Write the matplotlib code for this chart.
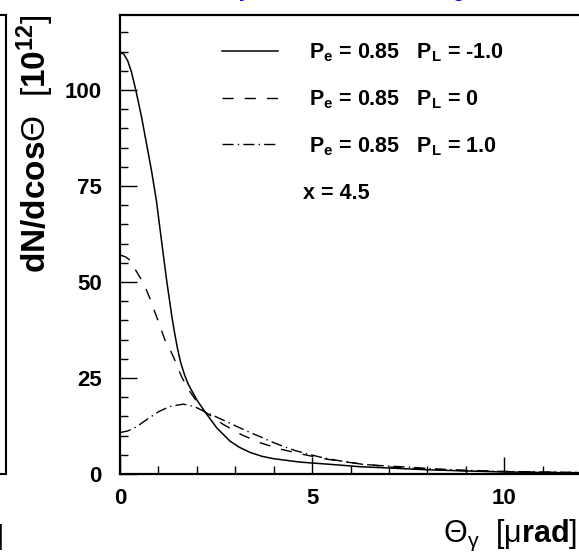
import matplotlib
matplotlib.use("Agg")
import matplotlib.pyplot as plt
from matplotlib.ticker import MultipleLocator

plt.rcParams['font.family'] = ['Liberation Sans', 'DejaVu Sans']
plt.rcParams['mathtext.fontset'] = 'custom'
plt.rcParams['mathtext.rm'] = 'Liberation Sans'
plt.rcParams['mathtext.it'] = 'Liberation Sans'
plt.rcParams['mathtext.bf'] = 'Liberation Sans:bold'

# theta in urad, dN/dcos(theta) in 1e12
theta_m1 = [0, 0.1, 0.2, 0.3, 0.41, 0.56, 0.69, 0.82, 0.95, 1.09, 1.22, 1.35,
            1.42, 1.5, 1.58, 1.68, 1.78, 2.0, 2.21, 2.52, 2.86, 3.1, 3.39, 3.7,
            3.99, 4.69, 5.5, 6.25, 7.03, 8.0, 9.0, 9.9, 11.0, 12.0]
dn_m1 = [109.8, 109.3, 107.6, 104.6, 100.0, 93.0, 86.0, 79.0, 71.0, 60.0, 50.0,
         41.0, 36.8, 32.5, 29.0, 25.8, 23.3, 19.3, 16.2, 12.0, 8.6, 7.0, 5.6, 4.6,
         4.0, 3.1, 2.5, 1.9, 1.55, 1.1, 0.8, 0.55, 0.4, 0.3]

theta_0 = [0, 0.13, 0.26, 0.43, 0.61, 0.78, 0.95, 1.17, 1.35, 1.48, 1.6, 1.78,
           2.0, 2.21, 2.69, 3.17, 3.69, 4.21, 4.77, 5.3, 5.9, 6.5, 7.0, 8.0,
           9.0, 10.0, 11.0, 12.0]
dn_0 = [57.0, 56.6, 55.7, 52.7, 49.7, 45.7, 41.0, 34.9, 31.4, 28.4, 25.4, 22.0,
        18.9, 16.2, 12.9, 10.2, 8.0, 6.4, 5.1, 4.0, 3.1, 2.4, 1.85, 1.25,
        0.85, 0.62, 0.47, 0.36]

theta_p1 = [0, 0.2, 0.43, 0.7, 1.0, 1.3, 1.65, 1.95, 2.21, 2.5, 2.78, 3.08,
            3.39, 3.7, 3.99, 4.28, 4.56, 4.86, 5.17, 5.45, 5.75, 6.33, 6.92,
            7.52, 8.1, 8.7, 9.28, 9.88, 11.0, 12.0]
dn_p1 = [10.8, 11.2, 12.3, 14.2, 16.2, 17.6, 18.2, 17.5, 16.2, 14.9, 13.6, 12.2,
         10.8, 9.5, 8.2, 7.1, 6.1, 5.3, 4.5, 3.9, 3.4, 2.5, 2.1,
         1.8, 1.4, 1.1, 0.88, 0.7, 0.53, 0.42]

labels = [r"$\mathbf{P_e}$ = 0.85   $\mathbf{P_L}$ = -1.0",
          r"$\mathbf{P_e}$ = 0.85   $\mathbf{P_L}$ = 0",
          r"$\mathbf{P_e}$ = 0.85   $\mathbf{P_L}$ = 1.0"]

fig = plt.figure(figsize=(5.79, 5.58), dpi=100)

# neighbouring panel, only its right edge is visible
ax0 = fig.add_axes([-0.5, 0.1505, 0.5 + 5.5 / 579, 0.8226])
ax0.set_xticks([])
ax0.set_yticks([])
for s in ax0.spines.values():
    s.set_linewidth(1.5)

ax = fig.add_axes([120 / 579, 0.1505, 461 / 579, 0.8226])

ax.plot(theta_m1, dn_m1, color="black", lw=1.1, label=labels[0])
ax.plot(theta_0, dn_0, color="black", lw=1.0, dashes=(8, 8), label=labels[1])
ax.plot(theta_p1, dn_p1, color="black", lw=1.0, dashes=(8, 3, 1, 3), label=labels[2])

ax.set_xlim(0, 12)
ax.set_ylim(0, 119.5)

ax.xaxis.set_major_locator(MultipleLocator(5))
ax.xaxis.set_minor_locator(MultipleLocator(1))
ax.yaxis.set_major_locator(MultipleLocator(25))
ax.yaxis.set_minor_locator(MultipleLocator(5))
ax.tick_params(which="both", direction="in", top=False, right=False, width=1.0)
ax.tick_params(which="major", length=12)
ax.tick_params(which="minor", length=6)
ax.tick_params(axis="y", pad=13, labelsize=16)
ax.tick_params(axis="x", pad=10, labelsize=16)
for lab in ax.get_xticklabels() + ax.get_yticklabels():
    lab.set_fontweight("bold")
for s in ax.spines.values():
    s.set_linewidth(1.6)

leg = ax.legend(loc="upper left", bbox_to_anchor=(0.221, 0.943), frameon=False,
                fontsize=15.5, handlelength=2.6, handletextpad=1.45,
                labelspacing=1.13, borderpad=0, borderaxespad=0)
for t in leg.get_texts():
    t.set_fontweight("bold")

ax.text(0.397, 0.612, "x = 4.5", transform=ax.transAxes, fontsize=15.5,
        fontweight="bold", va="center", ha="left")

fig.text(35 / 579, 1 - 14 / 558, r"$\mathbf{dN/dcos}\Theta\ \ [\mathbf{10^{12}}]$",
         rotation=90, ha="center", va="top", fontsize=24)
fig.text(577 / 579, 1 - 535 / 558, r"$\Theta_{\gamma}\ \ [\mu\mathbf{rad}]$",
         ha="right", va="center", fontsize=22)
fig.text(4 / 579, 1 - 537 / 558, "]", ha="right", va="center", fontsize=20)

# descenders of the blue title above, cut off by the figure edge
fig.text(244 / 579, 1 + 3 / 558, "y", color="blue", fontsize=14,
         fontweight="bold", ha="center", va="baseline")
fig.text(458 / 579, 1 + 3 / 558, "g", color="blue", fontsize=14,
         fontweight="bold", ha="center", va="baseline")

fig.savefig("out.png", dpi=100)
